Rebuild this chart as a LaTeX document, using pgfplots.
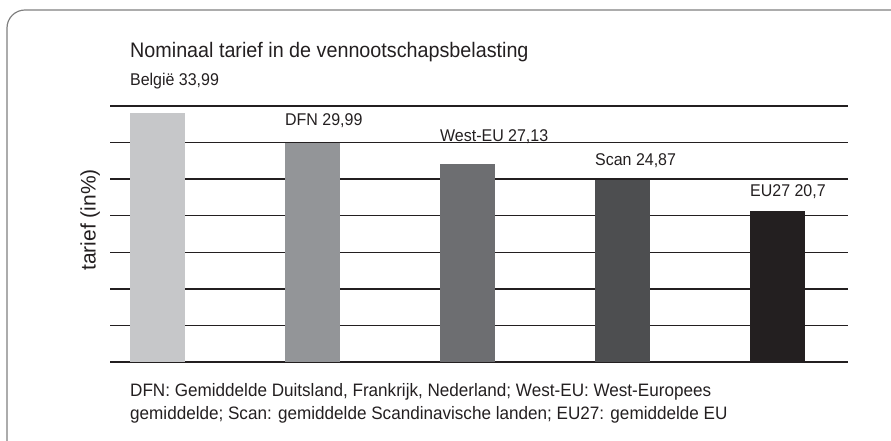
\documentclass[border=0pt]{standalone}
\usepackage{fontspec}
\setmainfont{Liberation Sans}
\usepackage{pgfplots}
\pgfplotsset{compat=1.18}
\definecolor{txt}{HTML}{231F20}
\definecolor{cA}{HTML}{C6C7C9}
\definecolor{cB}{HTML}{939598}
\definecolor{cC}{HTML}{6D6E71}
\definecolor{cD}{HTML}{4D4E50}
\definecolor{cE}{HTML}{231F20}
\definecolor{frame}{HTML}{808080}
\begin{document}
\begin{tikzpicture}[x=1pt,y=1pt]
\useasboundingbox (0,0) rectangle (891,441);
\clip (0,0) rectangle (891,441);
\draw[frame, line width=1.2pt, rounded corners=18pt] (7,-40) -- (7,431) -- (930,431);
\node[anchor=base west, text=txt, font=\fontsize{21}{22}\selectfont, inner sep=0pt] at (130,383.5) {\addfontfeature{FakeStretch=0.94}Nominaal tarief in de vennootschapsbelasting};
\node[anchor=base west, text=txt, font=\fontsize{18}{23}\selectfont, inner sep=0pt] at (130,44) {\addfontfeature{FakeStretch=0.95}DFN: Gemiddelde Duitsland, Frankrijk, Nederland; West-EU: West-Europees};
\node[anchor=base west, text=txt, font=\fontsize{18}{23}\selectfont, inner sep=0pt] at (130,21) {\addfontfeature{FakeStretch=0.95}gemiddelde; Scan: gemiddelde Scandinavische landen; EU27: gemiddelde EU};
\begin{axis}[
  at={(110pt,79pt)}, anchor=south west,
  scale only axis, width=738pt, height=256pt,
  xmin=-0.306, xmax=4.455, ymin=0, ymax=35,
  ytick={0,5,...,35}, xtick=\empty,
  yticklabels={},
  major tick length=0pt,
  ymajorgrids,
  grid style={draw=txt, line width=1.3pt},
  axis line style={draw=none},
  clip=false,
  ybar, bar width=55pt, bar shift=0pt,
]
\addplot[draw=none, fill=cA] coordinates {(0,33.99)};
\addplot[draw=none, fill=cB] coordinates {(1,29.99)};
\addplot[draw=none, fill=cC] coordinates {(2,27.13)};
\addplot[draw=none, fill=cD] coordinates {(3,24.87)};
\addplot[draw=none, fill=cE] coordinates {(4,20.7)};
\begin{scope}[every node/.style={anchor=base west, text=txt, font=\fontsize{17}{19}\selectfont, inner sep=0pt}]
\node at (axis cs:-0.1774,37.87) {\addfontfeature{FakeStretch=0.94}België 33,99};
\node at (axis cs:0.8226,32.40) {\addfontfeature{FakeStretch=0.94}DFN 29,99};
\node at (axis cs:1.8226,30.12) {\addfontfeature{FakeStretch=0.94}West-EU 27,13};
\node at (axis cs:2.8226,26.8) {\addfontfeature{FakeStretch=0.94}Scan 24,87};
\node at (axis cs:3.8226,22.56) {\addfontfeature{FakeStretch=0.94}EU27 20,7};
\end{scope}
\node[rotate=90, text=txt, font=\fontsize{21}{22}\selectfont, inner sep=0pt] at (rel axis cs:-0.027,0.555) {tarief (in\%)};
\end{axis}
\end{tikzpicture}
\end{document}
